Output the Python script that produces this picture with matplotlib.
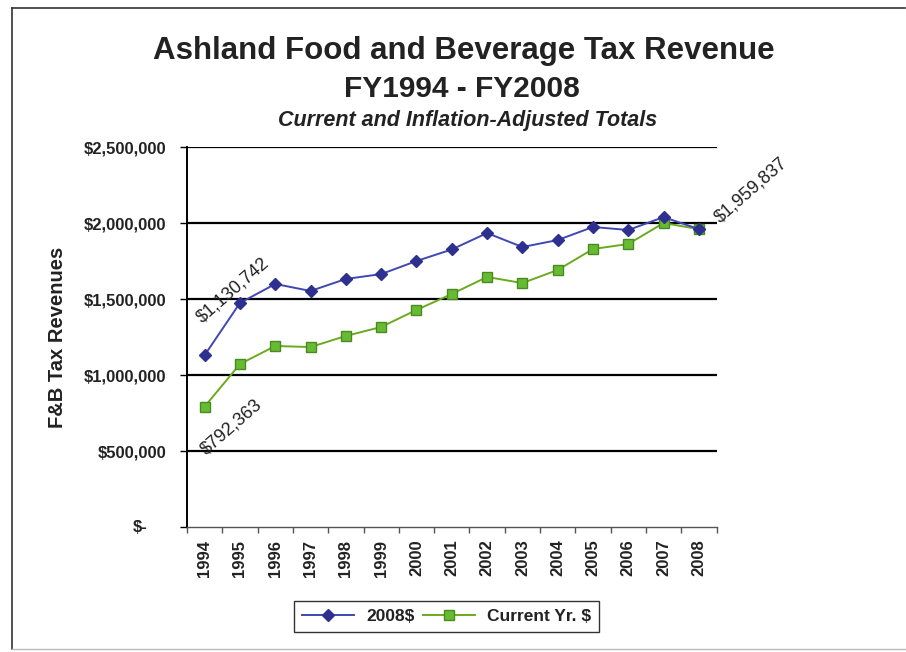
import matplotlib.pyplot as plt
from matplotlib.lines import Line2D
from matplotlib.ticker import FuncFormatter, MultipleLocator
import matplotlib.transforms as mtransforms
import numpy as np

plt.rcParams['font.family'] = ['Liberation Sans', 'DejaVu Sans']

years = ['1994', '1995', '1996', '1997', '1998', '1999', '2000', '2001',
         '2002', '2003', '2004', '2005', '2006', '2007', '2008']
# inflation-adjusted to 2008 dollars
real_2008 = [1130742, 1474000, 1599000, 1553000, 1632000, 1664000, 1750000,
             1826000, 1934000, 1842000, 1888000, 1974000, 1954000, 2039000,
             1959837]
# nominal, current-year dollars
current = [792363, 1072000, 1191000, 1184000, 1257000, 1316000, 1428000,
           1533000, 1645000, 1605000, 1691000, 1829000, 1862000, 2000000,
           1959837]

fig = plt.figure(figsize=(9.06, 6.52), dpi=100)
ax = fig.add_axes([0.2064, 0.1917, 0.5845, 0.5828])

x = np.arange(len(years))
ax.plot(x, real_2008, color='#4046b4', lw=1.4, marker='D', ms=6.5,
        mfc='#2e3090', mec='#2e3090', label='2008$', zorder=4)
ax.plot(x, current, color='#6aaa1e', lw=1.4, marker='s', ms=7,
        mfc='#66bb33', mec='#4a8a20', label='Current Yr. $', zorder=3)

# value labels on first and last points
lab_kw = dict(textcoords='offset points', rotation=41, fontsize=13,
              ha='left', va='bottom', rotation_mode='anchor', zorder=5,
              color='#222222')
ax.annotate(f'${real_2008[0]:,}', (x[0], real_2008[0]), xytext=(0, 21),
            **lab_kw)
ax.annotate(f'${current[0]:,}', (x[0], current[0]), xytext=(3, -37),
            **lab_kw)
ax.annotate(f'${current[-1]:,}', (x[-1], current[-1]), xytext=(17, 2),
            **lab_kw)

ax.set_xlim(-0.5, len(years) - 0.5)
ax.set_ylim(0, 2500000)
ax.yaxis.set_major_locator(MultipleLocator(500000))
# zero gets its own accounting-style label further left
ax.yaxis.set_major_formatter(FuncFormatter(
    lambda v, p: '' if v == 0 else f'${v:,.0f}'))
ax.text(-0.075, 0, '$-', transform=ax.get_yaxis_transform(), ha='right',
        va='center', fontsize=12, fontweight='bold', color='#222222')
for v in range(500000, 2500001, 500000):
    ax.axhline(v, color='black', lw=1.6, zorder=1)

ax.set_xticks(x)
ax.set_xticklabels(years, rotation=90, fontsize=12, fontweight='bold',
                   color='#222222')
ax.set_xticks(np.arange(-0.5, len(years)), minor=True)
ax.tick_params(axis='x', which='major', length=0, pad=9)
ax.tick_params(axis='x', which='minor', length=4, width=1, direction='out',
               color='#555555')
ax.tick_params(axis='y', length=5, width=1, direction='out', pad=10,
               labelsize=12, labelcolor='#222222')
for lab in ax.get_yticklabels():
    lab.set_fontweight('bold')

for side in ['top', 'right']:
    ax.spines[side].set_visible(False)
ax.spines['left'].set_linewidth(1.4)
ax.spines['bottom'].set_linewidth(1.0)
ax.spines['bottom'].set_color('#555555')

ax.set_ylabel('F&B Tax Revenues', fontsize=14.5, fontweight='bold',
              color='#222222')
ax.yaxis.set_label_coords(-0.226, 0.50)

fig.text(0.512, 0.922, 'Ashland Food and Beverage Tax Revenue', ha='center',
         va='center', fontsize=22.5, fontweight='bold', color='#222222')
fig.text(0.51, 0.864, 'FY1994 - FY2008', ha='center', va='center',
         fontsize=21.5, fontweight='bold', color='#222222')
fig.text(0.516, 0.815, 'Current and Inflation-Adjusted Totals', ha='center',
         va='center', fontsize=15.5, fontweight='bold', style='italic',
         color='#222222')

leg = fig.legend(loc='center', bbox_to_anchor=(0.493, 0.054), ncol=2,
                 fontsize=12.5, frameon=True, fancybox=False,
                 handlelength=3.0, columnspacing=0.5, handletextpad=0.7,
                 borderpad=0.45)
leg.get_frame().set_edgecolor('black')
leg.get_frame().set_linewidth(1.0)
for t in leg.get_texts():
    t.set_fontweight('bold')
    t.set_color('#222222')

# outer chart border
fig.add_artist(Line2D([0.013, 0.999], [0.988, 0.988], color='#333333', lw=1.2))
fig.add_artist(Line2D([0.013, 0.013], [0.004, 0.988], color='#333333', lw=1.2))
fig.add_artist(Line2D([0.013, 0.999], [0.004, 0.004], color='#bbbbbb', lw=1.0))

fig.savefig('out.png', dpi=100, facecolor='white')
